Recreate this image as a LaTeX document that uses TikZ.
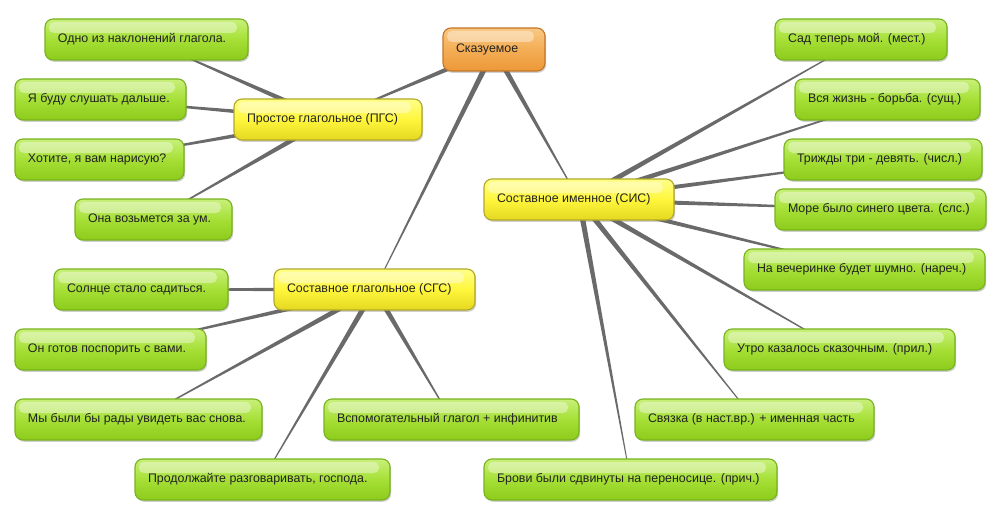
\documentclass[tikz,border=0pt]{standalone}
\usepackage{fontspec}
\setmainfont{Liberation Sans}
\usetikzlibrary{calc,backgrounds,shadows}
\pgfdeclarelayer{paper}
\pgfsetlayers{paper,background,main}
\definecolor{txt}{HTML}{222222}
\definecolor{linkc}{HTML}{6A6A6A}
\definecolor{gtop}{HTML}{C8F07A}
\definecolor{gmid}{HTML}{A6E036}
\definecolor{gbot}{HTML}{8CCB1C}
\definecolor{gbrd}{HTML}{78B31E}
\definecolor{ytop}{HTML}{FFFF8A}
\definecolor{ymid}{HTML}{FFF63C}
\definecolor{ybot}{HTML}{E4D820}
\definecolor{ybrd}{HTML}{B2A828}
\definecolor{otop}{HTML}{F8C884}
\definecolor{omid}{HTML}{F4AE55}
\definecolor{obot}{HTML}{EC9838}
\definecolor{obrd}{HTML}{C47628}
\newcommand\tx[2]{\makebox[#1pt][l]{\hspace{13pt}#2}}
\newcommand\taper[2]{\fill[linkc] ($(#1.center)!2.8pt!90:(#2.center)$) -- ($(#2.center)!0.3pt!-90:(#1.center)$) -- ($(#2.center)!0.3pt!90:(#1.center)$) -- ($(#1.center)!2.8pt!-90:(#2.center)$) -- cycle;}
\tikzset{
  basebox/.style={rounded corners=8pt, line width=1.1pt, minimum height=41pt,
    inner xsep=0pt, inner ysep=0pt, font=\fontsize{12.4}{14}\selectfont, text=txt,
    drop shadow={shadow xshift=1.2pt, shadow yshift=-1.8pt, opacity=0.3, fill=black!60},
    path picture={\fill[white, opacity=0.38, rounded corners=5pt]
      ([xshift=4pt,yshift=-3pt]path picture bounding box.north west) rectangle
      ([xshift=-11pt,yshift=-14pt]path picture bounding box.north east);}},
  gbox/.style={basebox, draw=gbrd, top color=gtop, bottom color=gbot, middle color=gmid},
  ybox/.style={basebox, draw=ybrd, top color=ytop, bottom color=ybot, middle color=ymid},
  obox/.style={basebox, draw=obrd, top color=otop, bottom color=obot, middle color=omid, minimum height=43pt},
}
\begin{document}
\begin{tikzpicture}[x=1pt,y=-1pt]
\begin{pgfonlayer}{paper}
\fill[white] (0,0) rectangle (996,511);
\end{pgfonlayer}
\useasboundingbox (0,0) rectangle (996,511);
\node[obox] (n0) at (494,49.5) {\tx{102}{Сказуемое}};
\node[ybox] (p) at (328,119.5) {\tx{188}{Простое глагольное (ПГС)}};
\node[ybox] (s) at (374.5,289.5) {\tx{201}{Составное глагольное (СГС)}};
\node[ybox] (c) at (579,199.5) {\tx{190}{Составное именное (СИС)}};
\node[gbox] (p1) at (146.5,39.5) {\tx{203}{Одно из наклонений глагола.}};
\node[gbox] (p2) at (100.5,99.5) {\tx{171}{Я буду слушать дальше.}};
\node[gbox] (p3) at (99.5,159.5) {\tx{169}{Хотите, я вам нарисую?}};
\node[gbox] (p4) at (153.5,219.5) {\tx{157}{Она возьмется за ум.}};
\node[gbox] (s1) at (141,289.5) {\tx{174}{Солнце стало садиться.}};
\node[gbox] (s2) at (110.5,349.5) {\tx{191}{Он готов поспорить с вами.}};
\node[gbox] (s3) at (138.5,419.5) {\tx{247}{Мы были бы рады увидеть вас снова.}};
\node[gbox] (s4) at (262.5,479.5) {\tx{255}{Продолжайте разговаривать, господа.}};
\node[gbox] (s5) at (451.5,419.5) {\tx{255}{Вспомогательный глагол + инфинитив}};
\node[gbox] (c1) at (861,39.5) {\tx{172}{Сад теперь мой. (мест.)}};
\node[gbox] (c2) at (887.5,99.5) {\tx{185}{Вся жизнь - борьба. (сущ.)}};
\node[gbox] (c3) at (883,159.5) {\tx{198}{Трижды три - девять. (числ.)}};
\node[gbox] (c4) at (880.5,209.5) {\tx{211}{Море было синего цвета. (слс.)}};
\node[gbox] (c5) at (864.5,269.5) {\tx{241}{На вечеринке будет шумно. (нареч.)}};
\node[gbox] (c6) at (839.5,349.5) {\tx{231}{Утро казалось сказочным. (прил.)}};
\node[gbox] (c7) at (754.5,419.5) {\tx{239}{Связка (в наст.вр.) + именная часть}};
\node[gbox] (c8) at (630.5,479.5) {\tx{293}{Брови были сдвинуты на переносице. (прич.)}};
\begin{pgfonlayer}{background}
\taper{n0}{p}\taper{n0}{s}\taper{n0}{c}
\taper{p}{p1}\taper{p}{p2}\taper{p}{p3}\taper{p}{p4}
\taper{s}{s1}\taper{s}{s2}\taper{s}{s3}\taper{s}{s4}\taper{s}{s5}
\taper{c}{c1}\taper{c}{c2}\taper{c}{c3}\taper{c}{c4}\taper{c}{c5}\taper{c}{c6}\taper{c}{c7}\taper{c}{c8}
\end{pgfonlayer}
\end{tikzpicture}
\end{document}
